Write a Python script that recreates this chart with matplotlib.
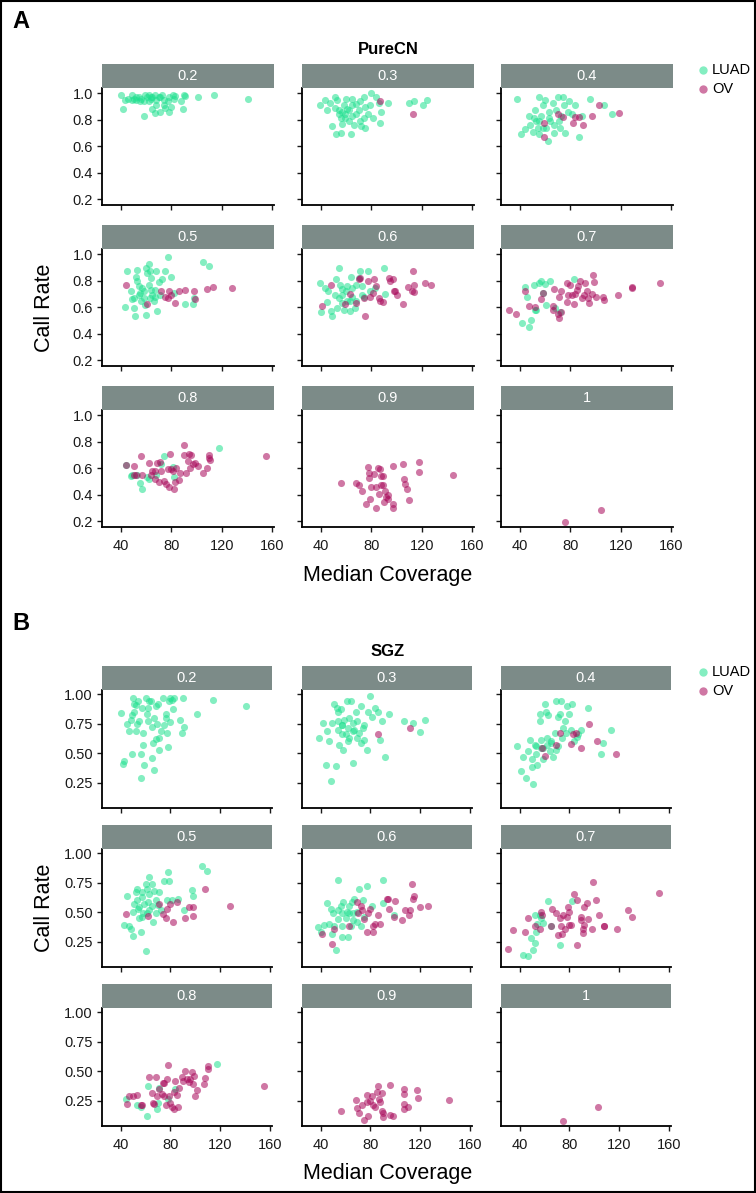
import matplotlib
matplotlib.use("Agg")
import matplotlib.pyplot as plt
from matplotlib.patches import Rectangle

plt.rcParams["font.family"] = ["Liberation Sans", "DejaVu Sans"]

FACETS = ["0.2", "0.3", "0.4", "0.5", "0.6", "0.7", "0.8", "0.9", "1"]
X_TICKS = [40, 80, 120, 160]
PURECN_Y_TICKS = [0.2, 0.4, 0.6, 0.8, 1.0]
SGZ_Y_TICKS = [0.25, 0.50, 0.75, 1.00]
CANCERS = ["LUAD", "OV"]

# (median coverage, call rate) per purity facet
purecn_luad = {
    "0.2": [(40, 0.99), (43, 0.95), (42, 0.88), (46, 0.96), (49, 0.99), (50, 0.96), (52, 0.95),
            (54, 0.975), (56, 0.96), (58, 0.94), (58, 0.83), (59, 0.99), (61, 0.97), (62, 0.99),
            (64, 0.96), (65, 0.975), (65, 0.88), (67, 0.99), (67, 0.85), (68, 0.95), (70, 0.97),
            (71, 0.86), (73, 0.99), (74, 0.95), (75, 0.89), (77, 0.94), (78, 0.86), (78, 0.975),
            (80, 0.90), (81, 0.99), (82, 0.96), (83, 0.98), (88, 0.94), (89, 0.88), (90, 0.99),
            (91, 0.98), (101, 0.975), (114, 0.99), (141, 0.96), (49, 0.95), (55, 0.94),
            (62, 0.94), (68, 0.91), (74, 0.91), (52, 0.975), (64, 0.975), (71, 0.975)],
    "0.3": [(39, 0.91), (43, 0.95), (45, 0.875), (47, 0.925), (49, 0.755), (51, 0.975), (52, 0.69),
            (53, 0.95), (54, 0.875), (56, 0.70), (56, 0.81), (57, 0.77), (58, 0.91), (59, 0.84),
            (60, 0.96), (61, 0.88), (62, 0.79), (64, 0.69), (65, 0.96), (65, 0.825), (66, 0.76),
            (68, 0.92), (70, 0.87), (71, 0.79), (72, 0.75), (74, 0.975), (75, 0.90), (75, 0.74),
            (77, 0.84), (79, 0.91), (80, 1.0), (81, 0.81), (84, 0.97), (86, 0.925), (87, 0.775),
            (88, 0.86), (93, 0.925), (110, 0.925), (114, 0.94), (121, 0.91), (124, 0.95),
            (51, 0.89), (57, 0.86), (62, 0.875), (65, 0.91), (68, 0.84), (74, 0.81), (54, 0.84),
            (59, 0.81), (71, 0.94)],
    "0.4": [(38, 0.96), (41, 0.69), (44, 0.73), (47, 0.825), (48, 0.76), (50, 0.71), (52, 0.875),
            (53, 0.79), (55, 0.69), (55, 0.975), (57, 0.825), (58, 0.91), (60, 0.95), (61, 0.74),
            (62, 0.64), (63, 0.86), (64, 0.79), (66, 0.925), (67, 0.70), (69, 0.875), (70, 0.975),
            (71, 0.79), (72, 0.74), (74, 0.975), (75, 0.91), (76, 0.70), (78, 0.86), (79, 0.94),
            (81, 0.84), (84, 0.91), (87, 0.67), (89, 0.825), (96, 0.96), (107, 0.91), (113, 0.84),
            (51, 0.81), (55, 0.79), (58, 0.74), (63, 0.81), (67, 0.76), (54, 0.74), (73, 0.825)],
    "0.5": [(43, 0.60), (45, 0.875), (48, 0.725), (49, 0.66), (50, 0.595), (51, 0.53), (52, 0.83),
            (53, 0.88), (53, 0.795), (54, 0.76), (55, 0.71), (56, 0.645), (58, 0.725), (59, 0.62),
            (60, 0.895), (60, 0.54), (61, 0.86), (62, 0.93), (62, 0.77), (63, 0.87), (64, 0.82),
            (64, 0.73), (65, 0.695), (66, 0.645), (67, 0.73), (68, 0.87), (69, 0.57), (70, 0.79),
            (71, 0.695), (73, 0.81), (75, 0.87), (77, 0.98), (80, 0.83), (82, 0.71), (91, 0.625),
            (97, 0.625), (98, 0.67), (105, 0.945), (110, 0.915), (54, 0.695), (58, 0.67),
            (63, 0.67), (67, 0.68), (57, 0.745), (50, 0.67)],
    "0.6": [(39, 0.78), (40, 0.565), (43, 0.745), (45, 0.64), (46, 0.72), (48, 0.57), (49, 0.53),
            (51, 0.695), (52, 0.81), (53, 0.595), (54, 0.895), (55, 0.77), (57, 0.63), (57, 0.695),
            (58, 0.58), (60, 0.72), (61, 0.76), (63, 0.57), (63, 0.645), (64, 0.83), (65, 0.68),
            (67, 0.595), (68, 0.77), (70, 0.82), (71, 0.875), (73, 0.76), (74, 0.68), (77, 0.87),
            (79, 0.72), (83, 0.745), (90, 0.90), (91, 0.70), (54, 0.67), (57, 0.74), (61, 0.65),
            (68, 0.645), (65, 0.745), (73, 0.69)],
    "0.7": [(42, 0.48), (44, 0.75), (46, 0.68), (47, 0.45), (49, 0.50), (51, 0.77), (52, 0.58),
            (53, 0.575), (55, 0.78), (57, 0.795), (58, 0.71), (60, 0.775), (61, 0.62), (64, 0.80),
            (68, 0.595), (72, 0.56), (83, 0.81)],
    "0.8": [(44, 0.625), (48, 0.54), (49, 0.55), (53, 0.55), (55, 0.49), (57, 0.445), (61, 0.53),
            (62, 0.52), (68, 0.545), (72, 0.63), (74, 0.69), (81, 0.61), (82, 0.53), (118, 0.755)],
    "0.9": [],
    "1": [],
}

purecn_ov = {
    "0.2": [],
    "0.3": [(87, 0.94), (113, 0.84)],
    "0.4": [(59, 0.775), (59, 0.67), (70, 0.84), (74, 0.82), (82, 0.775), (84, 0.82), (87, 0.82),
            (90, 0.76), (97, 0.825), (103, 0.91), (119, 0.85)],
    "0.5": [(44, 0.77), (61, 0.625), (72, 0.72), (75, 0.68), (77, 0.67), (78, 0.725), (80, 0.695),
            (83, 0.63), (86, 0.725), (91, 0.73), (98, 0.72), (99, 0.665), (108, 0.74), (113, 0.75),
            (128, 0.745)],
    "0.6": [(41, 0.61), (48, 0.765), (59, 0.625), (63, 0.70), (68, 0.63), (70, 0.81), (71, 0.82),
            (74, 0.67), (75, 0.53), (77, 0.795), (79, 0.68), (81, 0.71), (82, 0.81), (84, 0.76),
            (86, 0.67), (87, 0.645), (89, 0.64), (94, 0.82), (95, 0.795), (97, 0.81), (98, 0.72),
            (99, 0.72), (100, 0.695), (105, 0.625), (109, 0.75), (112, 0.72), (113, 0.875),
            (114, 0.765), (114, 0.715), (123, 0.78), (127, 0.765)],
    "0.7": [(31, 0.575), (37, 0.55), (44, 0.72), (47, 0.61), (52, 0.60), (57, 0.66), (58, 0.71),
            (66, 0.61), (67, 0.74), (70, 0.545), (71, 0.515), (73, 0.56), (71, 0.675), (77, 0.78),
            (77, 0.64), (78, 0.69), (80, 0.77), (81, 0.69), (83, 0.625), (84, 0.70), (85, 0.73),
            (86, 0.76), (88, 0.80), (89, 0.67), (91, 0.695), (92, 0.78), (93, 0.725), (94, 0.67),
            (95, 0.63), (97, 0.70), (98, 0.84), (99, 0.79), (100, 0.675), (106, 0.68), (107, 0.655),
            (118, 0.69), (129, 0.745), (129, 0.75), (151, 0.78), (66, 0.575), (73, 0.72)],
    "0.8": [(44, 0.625), (50, 0.62), (50, 0.55), (52, 0.545), (56, 0.695), (57, 0.55), (62, 0.64),
            (64, 0.55), (65, 0.575), (67, 0.58), (67, 0.52), (69, 0.64), (70, 0.495), (71, 0.645),
            (72, 0.58), (74, 0.505), (76, 0.48), (77, 0.59), (78, 0.46), (79, 0.71), (80, 0.595),
            (81, 0.58), (82, 0.44), (83, 0.495), (84, 0.60), (86, 0.51), (87, 0.56), (90, 0.775),
            (90, 0.70), (92, 0.56), (93, 0.655), (94, 0.71), (95, 0.605), (96, 0.70), (97, 0.63),
            (99, 0.64), (101, 0.62), (105, 0.56), (108, 0.605), (110, 0.675), (110, 0.70),
            (111, 0.66), (155, 0.69)],
    "0.9": [(56, 0.49), (68, 0.49), (70, 0.47), (73, 0.425), (76, 0.33), (77, 0.61), (78, 0.56),
            (78, 0.525), (79, 0.37), (80, 0.46), (82, 0.555), (84, 0.295), (84, 0.46), (85, 0.605),
            (86, 0.405), (87, 0.59), (88, 0.47), (89, 0.54), (90, 0.345), (91, 0.43), (92, 0.38),
            (93, 0.395), (93, 0.37), (97, 0.62), (97, 0.33), (97, 0.30), (105, 0.63), (106, 0.52),
            (107, 0.48), (108, 0.44), (110, 0.36), (118, 0.65), (118, 0.57), (145, 0.545),
            (88, 0.54), (89, 0.475)],
    "1": [(76, 0.195), (104, 0.28)],
}

sgz_luad = {
    "0.2": [(40, 0.84), (42, 0.41), (43, 0.43), (45, 0.75), (47, 0.69), (48, 0.78), (49, 0.82),
            (49, 0.49), (50, 0.97), (51, 0.92), (51, 0.85), (52, 0.91), (52, 0.69), (53, 0.75),
            (54, 0.94), (55, 0.77), (56, 0.49), (56, 0.29), (57, 0.88), (58, 0.67), (58, 0.57),
            (59, 0.40), (60, 0.97), (61, 0.83), (62, 0.77), (62, 0.88), (63, 0.94), (64, 0.94),
            (65, 0.72), (65, 0.46), (66, 0.59), (67, 0.36), (67, 0.80), (68, 0.62), (68, 0.90),
            (69, 0.75), (70, 0.92), (71, 0.63), (71, 0.53), (72, 0.69), (74, 0.97), (75, 0.74),
            (76, 0.83), (76, 0.80), (77, 0.67), (78, 0.55), (79, 0.94), (80, 0.76), (80, 0.97),
            (81, 0.95), (82, 0.87), (83, 0.97), (88, 0.78), (89, 0.67), (90, 0.97), (91, 0.72),
            (101, 0.83), (114, 0.95), (141, 0.90)],
    "0.3": [(39, 0.63), (42, 0.755), (44, 0.40), (45, 0.685), (47, 0.60), (48, 0.26), (49, 0.755),
            (51, 0.92), (52, 0.39), (53, 0.88), (54, 0.70), (54, 0.85), (55, 0.57), (56, 0.87),
            (57, 0.74), (57, 0.66), (58, 0.53), (59, 0.78), (60, 0.66), (61, 0.94), (62, 0.71),
            (63, 0.80), (63, 0.63), (64, 0.94), (66, 0.755), (66, 0.42), (67, 0.70), (68, 0.85),
            (69, 0.77), (71, 0.67), (72, 0.90), (72, 0.59), (74, 0.71), (75, 0.615), (77, 0.53),
            (78, 0.85), (80, 0.98), (81, 0.81), (84, 0.88), (86, 0.85), (88, 0.615), (89, 0.77),
            (92, 0.47), (95, 0.83), (107, 0.775), (114, 0.755), (120, 0.68), (124, 0.78),
            (57, 0.74), (62, 0.60), (66, 0.685), (69, 0.63), (75, 0.74), (54, 0.77)],
    "0.4": [(38, 0.56), (41, 0.35), (43, 0.47), (45, 0.29), (47, 0.52), (48, 0.61), (50, 0.38),
            (50, 0.45), (51, 0.24), (52, 0.57), (53, 0.49), (54, 0.40), (56, 0.83), (56, 0.77),
            (57, 0.615), (59, 0.545), (60, 0.92), (61, 0.85), (62, 0.63), (63, 0.82), (64, 0.52),
            (65, 0.60), (67, 0.47), (69, 0.94), (71, 0.56), (71, 0.81), (72, 0.83), (73, 0.94),
            (74, 0.63), (76, 0.77), (77, 0.67), (78, 0.90), (80, 0.83), (81, 0.70), (82, 0.92),
            (84, 0.60), (86, 0.635), (87, 0.66), (89, 0.70), (95, 0.88), (105, 0.49), (107, 0.59),
            (113, 0.70), (53, 0.56), (57, 0.545), (62, 0.57), (65, 0.59), (68, 0.67), (75, 0.71),
            (59, 0.45), (69, 0.53)],
    "0.5": [(43, 0.39), (45, 0.635), (47, 0.38), (48, 0.36), (50, 0.30), (50, 0.50), (51, 0.57),
            (52, 0.67), (53, 0.60), (53, 0.70), (55, 0.45), (55, 0.545), (56, 0.33), (57, 0.63),
            (57, 0.67), (58, 0.495), (60, 0.74), (60, 0.17), (61, 0.70), (62, 0.585), (63, 0.80),
            (63, 0.655), (65, 0.74), (65, 0.55), (66, 0.42), (67, 0.68), (68, 0.49), (68, 0.60),
            (70, 0.56), (71, 0.67), (72, 0.52), (75, 0.76), (77, 0.60), (78, 0.84), (79, 0.76),
            (81, 0.60), (86, 0.615), (91, 0.52), (97, 0.69), (98, 0.64), (105, 0.89), (109, 0.85),
            (54, 0.53), (59, 0.57), (63, 0.52), (57, 0.46), (61, 0.49)],
    "0.6": [(38, 0.37), (40, 0.33), (43, 0.39), (45, 0.58), (47, 0.40), (48, 0.53), (49, 0.315),
            (50, 0.49), (52, 0.18), (54, 0.77), (54, 0.44), (56, 0.55), (57, 0.29), (57, 0.38),
            (58, 0.59), (60, 0.45), (61, 0.50), (62, 0.29), (63, 0.55), (64, 0.38), (65, 0.59),
            (66, 0.49), (67, 0.61), (69, 0.42), (71, 0.70), (72, 0.38), (74, 0.60), (75, 0.46),
            (77, 0.72), (81, 0.55), (90, 0.775), (90, 0.58), (99, 0.475), (51, 0.38), (57, 0.49),
            (66, 0.43), (63, 0.49), (54, 0.52), (69, 0.50)],
    "0.7": [(43, 0.14), (47, 0.13), (49, 0.28), (51, 0.18), (52, 0.235), (53, 0.33), (52, 0.475),
            (54, 0.40), (56, 0.475), (57, 0.45), (59, 0.41), (63, 0.595), (65, 0.38), (72, 0.22),
            (82, 0.595)],
    "0.8": [(44, 0.26), (53, 0.21), (56, 0.20), (61, 0.12), (62, 0.37), (69, 0.18), (70, 0.23),
            (71, 0.36), (78, 0.26), (84, 0.35), (117, 0.56)],
    "0.9": [],
    "1": [],
}

sgz_ov = {
    "0.2": [],
    "0.3": [(86, 0.66), (112, 0.71)],
    "0.4": [(58, 0.54), (60, 0.475), (69, 0.57), (72, 0.67), (81, 0.58), (83, 0.66), (85, 0.67),
            (89, 0.54), (96, 0.75), (102, 0.60), (117, 0.49)],
    "0.5": [(44, 0.48), (62, 0.47), (71, 0.57), (74, 0.48), (76, 0.45), (77, 0.53), (80, 0.57),
            (82, 0.42), (85, 0.59), (92, 0.45), (95, 0.54), (98, 0.54), (98, 0.47), (108, 0.70),
            (128, 0.55)],
    "0.6": [(41, 0.315), (49, 0.23), (51, 0.355), (63, 0.38), (69, 0.59), (70, 0.49), (72, 0.55),
            (73, 0.52), (75, 0.44), (77, 0.33), (78, 0.49), (80, 0.53), (82, 0.38), (82, 0.33),
            (84, 0.40), (86, 0.475), (88, 0.40), (93, 0.615), (94, 0.61), (95, 0.53), (99, 0.46),
            (100, 0.595), (105, 0.43), (108, 0.52), (111, 0.475), (112, 0.52), (113, 0.735),
            (114, 0.61), (115, 0.635), (120, 0.54), (126, 0.555)],
    "0.7": [(31, 0.19), (35, 0.35), (44, 0.335), (47, 0.45), (52, 0.38), (56, 0.36), (57, 0.50),
            (58, 0.475), (65, 0.38), (66, 0.53), (69, 0.49), (71, 0.31), (72, 0.45), (73, 0.38),
            (74, 0.315), (75, 0.475), (76, 0.36), (78, 0.46), (79, 0.545), (80, 0.39), (80, 0.50),
            (81, 0.39), (84, 0.65), (86, 0.60), (86, 0.22), (89, 0.46), (89, 0.43), (91, 0.325),
            (91, 0.36), (92, 0.54), (94, 0.58), (95, 0.44), (98, 0.36), (99, 0.755), (101, 0.60),
            (104, 0.475), (108, 0.38), (108, 0.38), (118, 0.36), (127, 0.52), (130, 0.455),
            (152, 0.66), (92, 0.39)],
    "0.8": [(45, 0.22), (47, 0.285), (50, 0.29), (53, 0.30), (56, 0.215), (57, 0.215), (63, 0.45),
            (65, 0.315), (66, 0.23), (67, 0.225), (68, 0.45), (69, 0.29), (71, 0.35), (73, 0.31),
            (74, 0.40), (75, 0.285), (75, 0.40), (76, 0.21), (77, 0.43), (78, 0.55), (79, 0.285),
            (80, 0.23), (81, 0.195), (83, 0.32), (83, 0.18), (84, 0.42), (85, 0.30), (86, 0.195),
            (87, 0.36), (89, 0.45), (90, 0.42), (92, 0.50), (93, 0.43), (95, 0.405), (96, 0.43),
            (97, 0.495), (98, 0.39), (99, 0.455), (100, 0.285), (101, 0.34), (107, 0.39),
            (108, 0.445), (110, 0.545), (110, 0.515), (155, 0.37)],
    "0.9": [(56, 0.16), (68, 0.255), (69, 0.185), (71, 0.145), (73, 0.21), (75, 0.09), (77, 0.30),
            (77, 0.235), (78, 0.12), (80, 0.25), (81, 0.285), (82, 0.21), (84, 0.195), (85, 0.325),
            (86, 0.37), (87, 0.265), (88, 0.235), (89, 0.165), (89, 0.315), (90, 0.145), (90, 0.11),
            (96, 0.38), (96, 0.13), (98, 0.12), (107, 0.35), (107, 0.305), (107, 0.22), (107, 0.18),
            (110, 0.20), (117, 0.34), (118, 0.27), (143, 0.255)],
    "1": [(75, 0.08), (103, 0.195)],
}

COLORS = {"LUAD": "#1fe08f", "OV": "#a8085a"}
STRIP_COLOR = "#7c8b88"
W, H = 756, 1193  # figure size in pixels


def fig_rect(left, top, width, height):
    """Pixel box (top-left origin) -> figure fraction rect."""
    return [left / W, 1 - (top + height) / H, width / W, height / H]


def draw_block(fig, luad, ov, title, letter, top0, col_w, row_tops, row_h, ylim, yticks, ytick_fmt):
    col_lefts = [102, 302, 501]
    fig.text(12 / W, 1 - (top0 + 22) / H, letter, fontsize=17, fontweight="bold", va="center")
    fig.text(388 / W, 1 - (top0 + 49) / H, title, fontsize=12, fontweight="bold", ha="center", va="center")

    for i, facet in enumerate(FACETS):
        r, c = divmod(i, 3)
        top = row_tops[r]
        ax = fig.add_axes(fig_rect(col_lefts[c], top, col_w, row_h))
        for cancer, data in (("LUAD", luad), ("OV", ov)):
            pts = data[facet]
            if pts:
                xs, ys = zip(*pts)
                ax.scatter(xs, ys, s=26, color=COLORS[cancer], alpha=0.55, linewidths=0, zorder=3)
        ax.set_xlim(25, 161.5)
        ax.set_ylim(*ylim)
        ax.set_xticks(X_TICKS)
        ax.set_yticks(yticks)
        ax.set_yticklabels([ytick_fmt.format(t) for t in yticks])
        for side in ("top", "right"):
            ax.spines[side].set_visible(False)
        for side in ("left", "bottom"):
            ax.spines[side].set_linewidth(1.3)
        ax.tick_params(length=3.5, width=1.0, labelsize=10.5, colors="#1a1a1a")
        ax.tick_params(axis="x", pad=5)
        ax.tick_params(axis="y", pad=3)
        if c != 0:
            ax.tick_params(axis="y", labelleft=False)
        if r != 2:
            ax.tick_params(axis="x", labelbottom=False)

        # facet strip
        fig.add_artist(Rectangle((col_lefts[c] / W, 1 - top / H), col_w / W, 24 / H,
                                 transform=fig.transFigure, facecolor=STRIP_COLOR, edgecolor="none"))
        fig.text((col_lefts[c] + col_w / 2) / W, 1 - (top - 12) / H, facet, color="white",
                 fontsize=10.5, ha="center", va="center")

    mid = row_tops[1] + row_h / 2
    fig.text(44 / W, 1 - mid / H, "Call Rate", fontsize=15.5, rotation=90, ha="center", va="center")
    fig.text(388 / W, 1 - (row_tops[2] + row_h + 48) / H, "Median Coverage", fontsize=15.5,
             ha="center", va="center")

    # legend
    for k, cancer in enumerate(CANCERS):
        y = top0 + 70 + 19 * k
        fig.add_artist(plt.Line2D([703 / W], [1 - y / H], marker="o", markersize=6, linestyle="none",
                                  color=COLORS[cancer], alpha=0.55, markeredgewidth=0,
                                  transform=fig.transFigure))
        fig.text(712 / W, 1 - y / H, cancer, fontsize=10.5, va="center")


fig = plt.figure(figsize=(W / 100, H / 100), dpi=100)

draw_block(fig, purecn_luad, purecn_ov, "PureCN", "A", 0, 172, [88, 249, 410], 117,
           (0.155, 1.04), PURECN_Y_TICKS, "{:.1f}")
draw_block(fig, sgz_luad, sgz_ov, "SGZ", "B", 602, 170, [690, 849, 1008], 118,
           (0.035, 1.035), SGZ_Y_TICKS, "{:.2f}")

# border around the whole figure
fig.add_artist(Rectangle((1 / W, 1 / H), (W - 2) / W, (H - 2) / H, transform=fig.transFigure,
                         facecolor="none", edgecolor="black", linewidth=1.5))

fig.savefig("out.png", dpi=100)
